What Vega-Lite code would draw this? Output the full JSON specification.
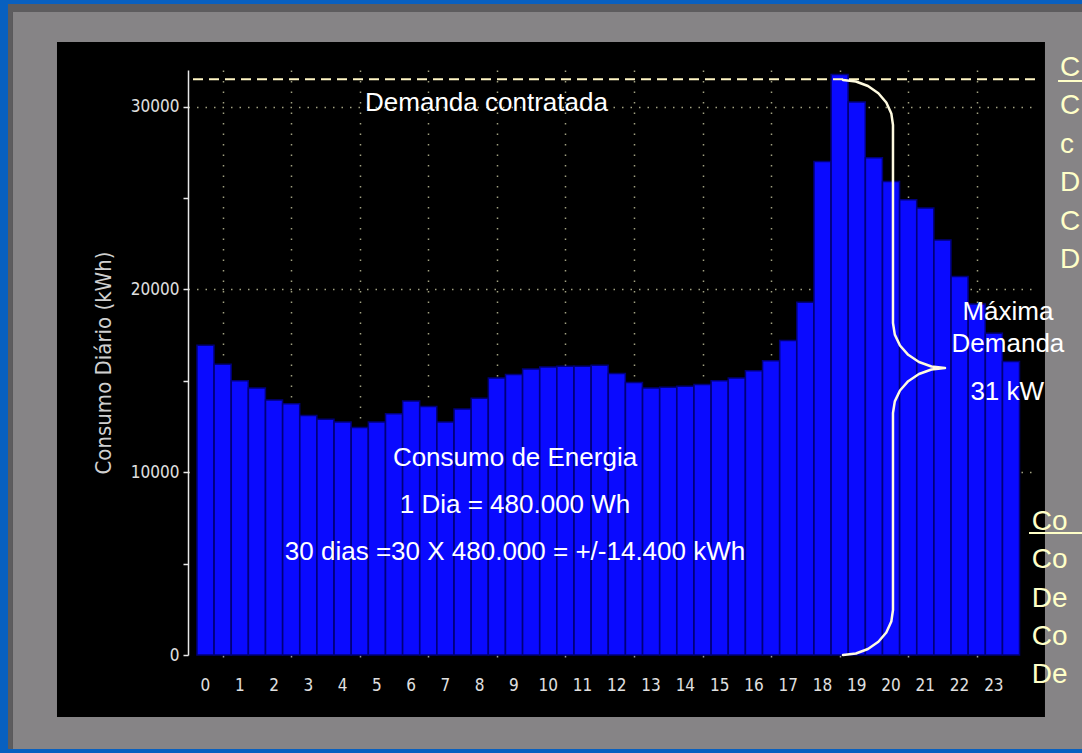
{
  "$schema": "https://vega.github.io/schema/vega-lite/v6.json",
  "autosize": {"type": "none"},
  "width": 847,
  "height": 585,
  "padding": {"left": 188, "top": 70, "right": 47, "bottom": 98},
  "background": "#000000",
  "config": {"view": {"stroke": null}},
  "data": {"values": [{}]},
  "layer": [
    {"mark": {"type": "rect", "color": "#0860c0"}, "encoding": {"x": {"datum": -7, "type": "quantitative", "title": null}, "x2": {"datum": -5.761}, "y": {"datum": -6000, "type": "quantitative", "title": "Consumo Diário (kWh)"}, "y2": {"datum": 37000}}},
    {"mark": {"type": "rect", "color": "#0860c0"}, "encoding": {"x": {"datum": -7, "type": "quantitative", "title": null}, "x2": {"datum": 26}, "y": {"datum": 35610, "type": "quantitative", "title": "Consumo Diário (kWh)"}, "y2": {"datum": 37000}}},
    {"mark": {"type": "rect", "color": "#0860c0"}, "encoding": {"x": {"datum": -7, "type": "quantitative", "title": null}, "x2": {"datum": 26}, "y": {"datum": -6000, "type": "quantitative", "title": "Consumo Diário (kWh)"}, "y2": {"datum": -5142}}},
    {"mark": {"type": "rect", "color": "#5d5c5e"}, "encoding": {"x": {"datum": -5.761, "type": "quantitative", "title": null}, "x2": {"datum": -5.616}, "y": {"datum": -5142, "type": "quantitative", "title": "Consumo Diário (kWh)"}, "y2": {"datum": 35610}}},
    {"mark": {"type": "rect", "color": "#5d5c5e"}, "encoding": {"x": {"datum": -5.761, "type": "quantitative", "title": null}, "x2": {"datum": 26}, "y": {"datum": 35173, "type": "quantitative", "title": "Consumo Diário (kWh)"}, "y2": {"datum": 35610}}},
    {"mark": {"type": "rect", "color": "#868486"}, "encoding": {"x": {"datum": -5.616, "type": "quantitative", "title": null}, "x2": {"datum": -4.332}, "y": {"datum": -5142, "type": "quantitative", "title": "Consumo Diário (kWh)"}, "y2": {"datum": 35173}}},
    {"mark": {"type": "rect", "color": "#868486"}, "encoding": {"x": {"datum": 24.491, "type": "quantitative", "title": null}, "x2": {"datum": 26}, "y": {"datum": -5142, "type": "quantitative", "title": "Consumo Diário (kWh)"}, "y2": {"datum": 35173}}},
    {"mark": {"type": "rect", "color": "#868486"}, "encoding": {"x": {"datum": -5.616, "type": "quantitative", "title": null}, "x2": {"datum": 26}, "y": {"datum": 33532, "type": "quantitative", "title": "Consumo Diário (kWh)"}, "y2": {"datum": 35173}}},
    {"mark": {"type": "rect", "color": "#868486"}, "encoding": {"x": {"datum": -5.616, "type": "quantitative", "title": null}, "x2": {"datum": 26}, "y": {"datum": -5142, "type": "quantitative", "title": "Consumo Diário (kWh)"}, "y2": {"datum": -3391}}},
    {
      "data": {"values": [
        {"hora": 0, "consumo": 16950}, {"hora": 0.5, "consumo": 15900}, {"hora": 1, "consumo": 15000}, {"hora": 1.5, "consumo": 14600},
        {"hora": 2, "consumo": 13950}, {"hora": 2.5, "consumo": 13750}, {"hora": 3, "consumo": 13100}, {"hora": 3.5, "consumo": 12900},
        {"hora": 4, "consumo": 12750}, {"hora": 4.5, "consumo": 12450}, {"hora": 5, "consumo": 12750}, {"hora": 5.5, "consumo": 13200},
        {"hora": 6, "consumo": 13900}, {"hora": 6.5, "consumo": 13600}, {"hora": 7, "consumo": 12750}, {"hora": 7.5, "consumo": 13450},
        {"hora": 8, "consumo": 14050}, {"hora": 8.5, "consumo": 15150}, {"hora": 9, "consumo": 15350}, {"hora": 9.5, "consumo": 15650},
        {"hora": 10, "consumo": 15750}, {"hora": 10.5, "consumo": 15800}, {"hora": 11, "consumo": 15800}, {"hora": 11.5, "consumo": 15850},
        {"hora": 12, "consumo": 15400}, {"hora": 12.5, "consumo": 14900}, {"hora": 13, "consumo": 14600}, {"hora": 13.5, "consumo": 14650},
        {"hora": 14, "consumo": 14700}, {"hora": 14.5, "consumo": 14800}, {"hora": 15, "consumo": 15000}, {"hora": 15.5, "consumo": 15150},
        {"hora": 16, "consumo": 15550}, {"hora": 16.5, "consumo": 16100}, {"hora": 17, "consumo": 17200}, {"hora": 17.5, "consumo": 19300},
        {"hora": 18, "consumo": 27000}, {"hora": 18.5, "consumo": 31750}, {"hora": 19, "consumo": 30250}, {"hora": 19.5, "consumo": 27200},
        {"hora": 20, "consumo": 25900}, {"hora": 20.5, "consumo": 24900}, {"hora": 21, "consumo": 24450}, {"hora": 21.5, "consumo": 22700},
        {"hora": 22, "consumo": 20700}, {"hora": 22.5, "consumo": 19200}, {"hora": 23, "consumo": 17600}, {"hora": 23.5, "consumo": 16050}
      ]},
      "mark": {"type": "bar", "width": 17, "color": "#0a0aff", "stroke": "#00007a", "strokeWidth": 1.5},
      "encoding": {
        "x": {
          "field": "hora", "type": "quantitative", "title": null,
          "scale": {"domain": [-0.51, 24.2], "nice": false, "zero": false, "padding": 0},
          "axis": {
            "values": [0,1,2,3,4,5,6,7,8,9,10,11,12,13,14,15,16,17,18,19,20,21,22,23],
            "labels": false,
            "domain": false,
            "ticks": true, "tickSize": 2, "tickWidth": 1.5, "tickColor": "#9a9a9a",
            "tickOffset": 17.14,
            "grid": true, "gridDash": [1.5, 9], "gridColor": "#c8c8a0", "gridWidth": 1.5, "gridOpacity": 0.8
          }
        },
        "y": {
          "field": "consumo", "type": "quantitative", "title": "Consumo Diário (kWh)",
          "scale": {"domain": [0, 32000], "nice": false},
          "axis": {
            "values": [0, 5000, 10000, 15000, 20000, 25000, 30000],
            "labelExpr": "datum.value % 10000 === 0 ? datum.value : ''",
            "domainColor": "#e8e8e8", "domainWidth": 1.5,
            "tickColor": "#e8e8e8", "tickSize": 5, "tickWidth": 1.5,
            "labelPadding": 4, "labelColor": "#e0e0e0",
            "labelFont": "DejaVu Sans Condensed, DejaVu Sans", "labelFontSize": 17,
            "titleColor": "#d0d0d0", "titleFont": "DejaVu Sans Condensed, DejaVu Sans", "titleFontSize": 22, "titleFontWeight": "normal", "titlePadding": 15,
            "grid": true, "gridDash": [1.5, 7], "gridColor": "#c8c8a0", "gridWidth": 1.5,
            "gridOpacity": {"condition": {"test": "datum.value % 10000 === 0 && datum.value > 0", "value": 0.8}, "value": 0}
          }
        }
      }
    },
    {
      "data": {"values": [
        {"rotulo_hora": 0}, {"rotulo_hora": 1}, {"rotulo_hora": 2}, {"rotulo_hora": 3}, {"rotulo_hora": 4}, {"rotulo_hora": 5},
        {"rotulo_hora": 6}, {"rotulo_hora": 7}, {"rotulo_hora": 8}, {"rotulo_hora": 9}, {"rotulo_hora": 10}, {"rotulo_hora": 11},
        {"rotulo_hora": 12}, {"rotulo_hora": 13}, {"rotulo_hora": 14}, {"rotulo_hora": 15}, {"rotulo_hora": 16}, {"rotulo_hora": 17},
        {"rotulo_hora": 18}, {"rotulo_hora": 19}, {"rotulo_hora": 20}, {"rotulo_hora": 21}, {"rotulo_hora": 22}, {"rotulo_hora": 23}
      ]},
      "mark": {"type": "text", "align": "center", "baseline": "alphabetic", "font": "DejaVu Sans Condensed, DejaVu Sans", "fontSize": 17, "color": "#e0e0e0"},
      "encoding": {
        "x": {"field": "rotulo_hora", "type": "quantitative", "title": null},
        "y": {"datum": -1969, "type": "quantitative", "title": "Consumo Diário (kWh)"},
        "text": {"field": "rotulo_hora", "type": "quantitative"}
      }
    },
    {
      "data": {"values": [{"demanda_contratada": 31500}]},
      "mark": {"type": "rule", "color": "#fff6c4", "strokeWidth": 2, "strokeDash": [10, 6]},
      "encoding": {"y": {"field": "demanda_contratada", "type": "quantitative", "title": "Consumo Diário (kWh)"}}
    },
    {
      "data": {"values": [
        {"ordem": 1, "hora": 18.599, "valor": 31453}, {"ordem": 2, "hora": 18.975, "valor": 31371}, {"ordem": 3, "hora": 19.327, "valor": 31124},
        {"ordem": 4, "hora": 19.631, "valor": 30731}, {"ordem": 5, "hora": 19.862, "valor": 30222}, {"ordem": 6, "hora": 20.008, "valor": 29626},
        {"ordem": 7, "hora": 20.057, "valor": 28991}, {"ordem": 8, "hora": 20.057, "valor": 18160}, {"ordem": 9, "hora": 20.11, "valor": 17526},
        {"ordem": 10, "hora": 20.261, "valor": 16930}, {"ordem": 11, "hora": 20.501, "valor": 16421}, {"ordem": 12, "hora": 20.815, "valor": 16027},
        {"ordem": 13, "hora": 21.18, "valor": 15781}, {"ordem": 14, "hora": 21.574, "valor": 15699}, {"ordem": 15, "hora": 21.18, "valor": 15617},
        {"ordem": 16, "hora": 20.815, "valor": 15371}, {"ordem": 17, "hora": 20.501, "valor": 14977}, {"ordem": 18, "hora": 20.261, "valor": 14468},
        {"ordem": 19, "hora": 20.11, "valor": 13872}, {"ordem": 20, "hora": 20.057, "valor": 13237}, {"ordem": 21, "hora": 20.057, "valor": 2462},
        {"ordem": 22, "hora": 20.008, "valor": 1827}, {"ordem": 23, "hora": 19.862, "valor": 1231}, {"ordem": 24, "hora": 19.631, "valor": 722},
        {"ordem": 25, "hora": 19.327, "valor": 328}, {"ordem": 26, "hora": 18.975, "valor": 82}, {"ordem": 27, "hora": 18.599, "valor": 0}
      ]},
      "mark": {"type": "line", "color": "#fffbe0", "strokeWidth": 2.5, "strokeJoin": "round", "strokeCap": "round"},
      "encoding": {
        "x": {"field": "hora", "type": "quantitative", "title": null},
        "y": {"field": "valor", "type": "quantitative", "title": "Consumo Diário (kWh)"},
        "order": {"field": "ordem", "type": "quantitative"}
      }
    },
    {"mark": {"type": "text", "text": "Demanda contratada", "align": "center", "baseline": "alphabetic", "font": "Liberation Sans, Arial", "fontSize": 26, "color": "#ffffff"},
     "encoding": {"x": {"datum": 8.197, "type": "quantitative", "title": null}, "y": {"datum": 29757, "type": "quantitative", "title": "Consumo Diário (kWh)"}}},
    {"mark": {"type": "text", "text": ["Consumo de Energia", "1 Dia = 480.000 Wh", "30 dias =30 X 480.000 = +/-14.400 kWh"], "lineHeight": 47, "align": "center", "baseline": "alphabetic", "font": "Liberation Sans, Arial", "fontSize": 26, "color": "#ffffff"},
     "encoding": {"x": {"datum": 9.03, "type": "quantitative", "title": null}, "y": {"datum": 10338, "type": "quantitative", "title": "Consumo Diário (kWh)"}}},
    {"mark": {"type": "text", "text": ["Máxima", "Demanda"], "lineHeight": 32, "align": "center", "baseline": "alphabetic", "font": "Liberation Sans, Arial", "fontSize": 26, "color": "#ffffff"},
     "encoding": {"x": {"datum": 23.41, "type": "quantitative", "title": null}, "y": {"datum": 18325, "type": "quantitative", "title": "Consumo Diário (kWh)"}}},
    {"mark": {"type": "text", "text": "31 kW", "align": "center", "baseline": "alphabetic", "font": "Liberation Sans, Arial", "fontSize": 26, "color": "#ffffff"},
     "encoding": {"x": {"datum": 23.39, "type": "quantitative", "title": null}, "y": {"datum": 13949, "type": "quantitative", "title": "Consumo Diário (kWh)"}}},
    {"mark": {"type": "text", "text": ["C", "C", "c", "D", "C", "D"], "lineHeight": 38.4, "align": "left", "baseline": "alphabetic", "font": "Liberation Sans, Arial", "fontSize": 28, "color": "#ffffc8"},
     "encoding": {"x": {"datum": 24.928, "type": "quantitative", "title": null}, "y": {"datum": 31671, "type": "quantitative", "title": "Consumo Diário (kWh)"}}},
    {"mark": {"type": "text", "text": ["Co", "Co", "De", "Co", "De"], "lineHeight": 38.3, "align": "left", "baseline": "alphabetic", "font": "Liberation Sans, Arial", "fontSize": 28, "color": "#ffffc8"},
     "encoding": {"x": {"datum": 24.104, "type": "quantitative", "title": null}, "y": {"datum": 6838, "type": "quantitative", "title": "Consumo Diário (kWh)"}}},
    {"mark": {"type": "rule", "color": "#ffffc8", "strokeWidth": 2},
     "encoding": {"x": {"datum": 24.872, "type": "quantitative", "title": null}, "x2": {"datum": 26}, "y": {"datum": 31398, "type": "quantitative", "title": "Consumo Diário (kWh)"}}},
    {"mark": {"type": "rule", "color": "#ffffc8", "strokeWidth": 2},
     "encoding": {"x": {"datum": 24.025, "type": "quantitative", "title": null}, "x2": {"datum": 26}, "y": {"datum": 6673, "type": "quantitative", "title": "Consumo Diário (kWh)"}}}
  ]
}
